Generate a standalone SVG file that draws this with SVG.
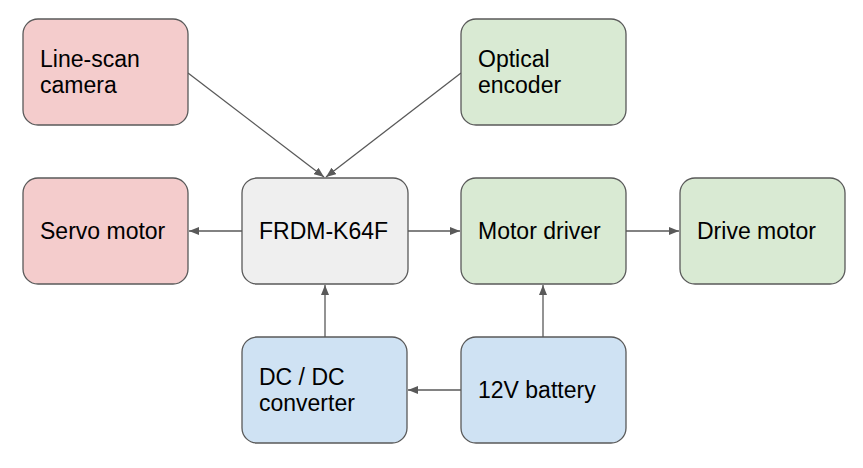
<svg xmlns="http://www.w3.org/2000/svg" width="863" height="468" viewBox="0 0 863 468">
<defs>
<marker id="ah" markerWidth="10" markerHeight="8" refX="10" refY="4" orient="auto" markerUnits="userSpaceOnUse">
<path d="M0,0 L10,4 L0,8 Z" fill="#595959"/>
</marker>
<style>
.box{stroke:#595959;stroke-width:1.3}
.pink{fill:#f4cccc}.green{fill:#d9ead3}.grey{fill:#efefef}.blue{fill:#cfe2f3}
.t{font-family:"Liberation Sans",Arial,sans-serif;font-size:23px;fill:#000}
.c{fill:none;stroke:#595959;stroke-width:1.3;marker-end:url(#ah)}
</style>
</defs>
<rect width="863" height="468" fill="#fff"/>
<g id="connectors">
<line class="c" x1="188" y1="73" x2="324" y2="177"/>
<line class="c" x1="461" y1="73" x2="326" y2="177"/>
<line class="c" x1="242" y1="231" x2="189" y2="231"/>
<line class="c" x1="408" y1="231" x2="460" y2="231"/>
<line class="c" x1="626" y1="231" x2="679" y2="231"/>
<line class="c" x1="325" y1="337" x2="325" y2="285"/>
<line class="c" x1="543" y1="337" x2="543" y2="285"/>
<line class="c" x1="461" y1="390" x2="408" y2="390"/>
</g>
<g id="camera"><rect class="box pink" x="23" y="19" width="165" height="106" rx="15"/><text class="t" x="40" y="67">Line-scan</text><text class="t" x="40" y="93">camera</text></g>
<g id="encoder"><rect class="box green" x="461" y="19" width="165" height="106" rx="15"/><text class="t" x="478" y="67">Optical</text><text class="t" x="478" y="93">encoder</text></g>
<g id="servo"><rect class="box pink" x="23" y="178" width="165" height="106" rx="15"/><text class="t" x="40" y="239">Servo motor</text></g>
<g id="frdm"><rect class="box grey" x="242" y="178" width="166" height="106" rx="15"/><text class="t" x="259" y="239">FRDM-K64F</text></g>
<g id="driver"><rect class="box green" x="461" y="178" width="165" height="106" rx="15"/><text class="t" x="478" y="239">Motor driver</text></g>
<g id="drive"><rect class="box green" x="680" y="178" width="165" height="106" rx="15"/><text class="t" x="697" y="239">Drive motor</text></g>
<g id="dcdc"><rect class="box blue" x="242" y="337" width="165" height="106" rx="15"/><text class="t" x="259" y="385">DC / DC</text><text class="t" x="259" y="411">converter</text></g>
<g id="battery"><rect class="box blue" x="461" y="337" width="165" height="106" rx="15"/><text class="t" x="478" y="398">12V battery</text></g>
</svg>
